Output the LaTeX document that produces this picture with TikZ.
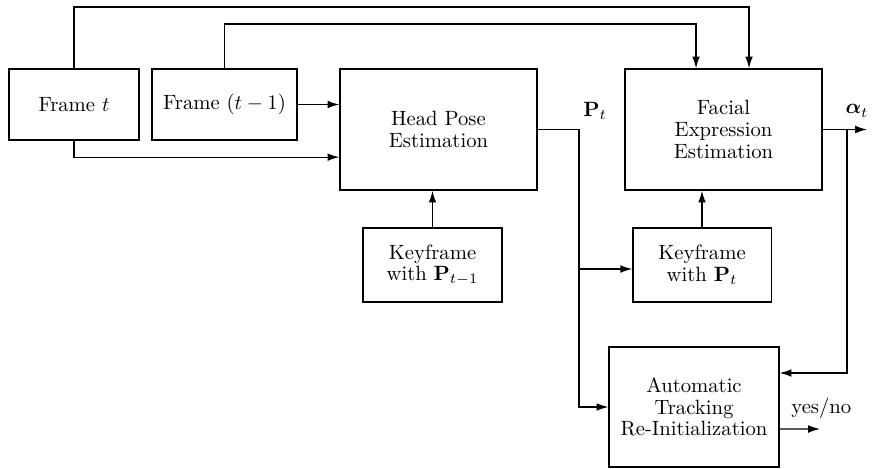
\documentclass[tikz,border=0pt]{standalone}
\usepackage{amsmath}
\usetikzlibrary{arrows.meta}
\newcommand{\twolines}[2]{#1\\#2}

\begin{document}
\begin{tikzpicture}[x=0.017cm,y=-0.017cm,
    blk/.style={draw,semithick,align=center,inner sep=2pt,
                font=\fontsize{10}{10.5}\selectfont},
    arr/.style={-{Latex[length=2mm,width=1.3mm]},semithick},
    ln/.style={semithick}]
        \useasboundingbox (0,0) rectangle (883,469);
        % boxes
        \node[blk,minimum width=2.21cm,minimum height=1.21cm]  (ft) at (74,104.5)  {Frame $t$};
        \node[blk,minimum width=2.465cm,minimum height=1.21cm] (fp) at (224.5,104.5) {Frame $(t-1)$};
        \node[blk,minimum width=3.35cm,minimum height=2.06cm]  (hp) at (438.5,129.5) {\twolines{Head Pose}{Estimation}};
        \node[blk,minimum width=3.35cm,minimum height=2.06cm]  (fe) at (723.5,129.5) {Facial\\Expression\\Estimation};
        \node[blk,minimum width=2.36cm,minimum height=1.26cm]  (ka) at (432.5,265) {\twolines{Keyframe}{with $\mathbf{P}_{t-1}$}};
        \node[blk,minimum width=2.35cm,minimum height=1.26cm]  (kb) at (702,265) {\twolines{Keyframe}{with $\mathbf{P}_t$}};
        \node[blk,minimum width=2.89cm,minimum height=2.04cm]  (ar) at (694,407) {Automatic\\Tracking\\Re-Initialization};
        % frames into the estimators
        \coordinate (top1) at (74,7);
        \coordinate (top2) at (224.5,24);
        \draw[arr] (ft.north) -- (top1) -| ([xshift=0.434cm]fe.north);
        \draw[arr] (fp.north) -- (top2) -| ([xshift=-0.467cm]fe.north);
        \draw[arr] (fp.east) -- (fp.east -| hp.west);
        \draw[arr] (ft.south) |- ([yshift=-0.47cm]hp.west);
        \draw[arr] (ka.north) -- (ka.north |- hp.south);
        \draw[arr] (kb.north) -- (kb.north |- fe.south);
        % head pose output
        \coordinate (pt) at (579,129.5);
        \draw[ln] (hp.east) -- (pt);
        \draw[arr] (pt) |- (ar.west);
        \draw[arr] (pt |- 0,269) -- (kb.west |- 0,269);
        \node[anchor=south west,inner sep=1pt] (ptl) at ([xshift=0.03cm,yshift=0.12cm]pt) {$\mathbf{P}_t$};
        % expression output
        \coordinate (aend) at (867,129.5);
        \coordinate (abr) at (847,129.5);
        \draw[arr] (fe.east) -- (aend);
        \node[anchor=south,inner sep=1pt] (al) at ([xshift=-0.17cm,yshift=0.17cm]aend) {$\boldsymbol{\alpha}_t$};
        \draw[arr] (abr) |- ([yshift=0.578cm]ar.east);
        % re-initialization decision
        \coordinate (yn) at (820,429);
        \draw[arr] ([yshift=-0.374cm]ar.east) -- (yn);
        \node[anchor=south west,inner sep=0pt] (ynl) at (791,419) {yes/no};
      \end{tikzpicture}
\end{document}
